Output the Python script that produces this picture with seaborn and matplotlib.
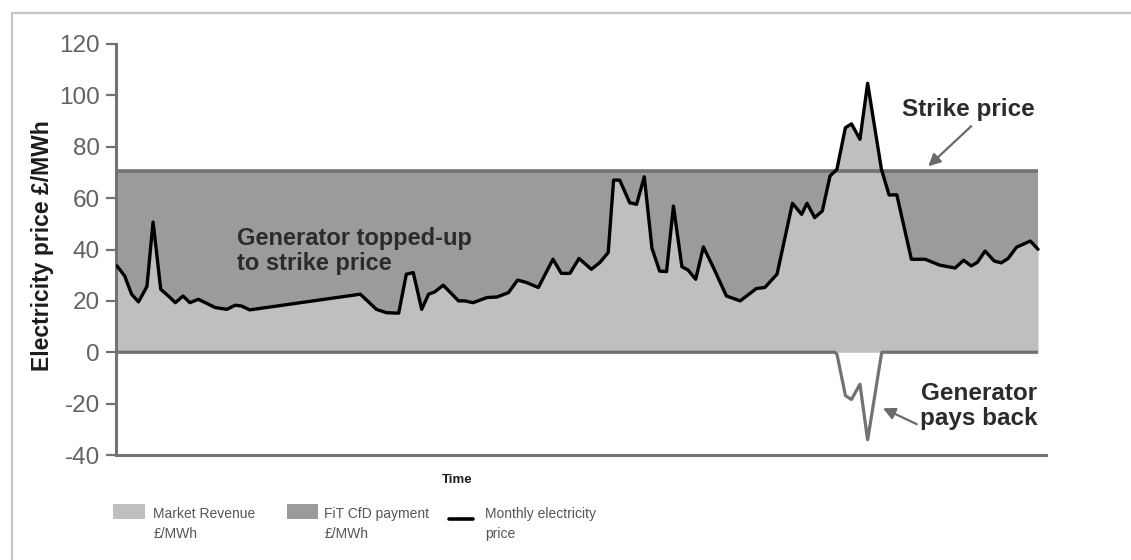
import numpy as np
import pandas as pd
import matplotlib
matplotlib.use("Agg")
import matplotlib.pyplot as plt
from matplotlib import font_manager
from matplotlib.patches import Patch, Rectangle
from matplotlib.lines import Line2D
from matplotlib.legend_handler import HandlerBase
import seaborn as sns

# Monthly wholesale electricity price (£/MWh) against time in months
months = [0.0, 1.0, 1.9, 2.8, 3.9, 4.7, 5.7, 6.7, 7.6, 8.6, 9.5, 10.6, 11.5, 12.8,
          14.3, 15.4, 16.2, 17.3, 31.7, 33.8, 35.1, 36.7, 37.7, 38.6, 39.7, 40.6,
          41.4, 42.5, 44.5, 45.3, 46.4, 48.2, 49.5, 51.0, 52.2, 53.4, 54.9, 56.8,
          57.9, 59.0, 60.2, 61.8, 62.9, 64.0, 64.7, 65.5, 66.8, 67.7, 68.7, 69.7,
          70.7, 71.6, 72.5, 73.6, 74.4, 75.4, 76.4, 77.7, 79.4, 81.2, 83.3, 84.4,
          86.0, 88.0, 89.2, 89.9, 90.9, 91.9, 92.9, 93.8, 94.9, 95.7, 96.8, 97.8,
          99.6, 100.6, 101.6, 103.5, 105.3, 107.2, 109.2, 110.3, 111.3, 112.1,
          113.1, 114.3, 115.2, 116.1, 117.2, 119.0, 120.0]
price = [33.6, 29.7, 22.6, 19.6, 25.6, 50.7, 24.5, 21.9, 19.3, 21.9, 19.3, 20.6,
         19.3, 17.4, 16.7, 18.3, 18.0, 16.5, 22.6, 16.7, 15.4, 15.2, 30.4, 31.0,
         16.7, 22.6, 23.5, 26.1, 20.0, 20.0, 19.3, 21.3, 21.5, 23.2, 28.1, 27.1,
         25.2, 36.2, 30.7, 30.7, 36.5, 32.3, 34.9, 38.8, 67.0, 67.0, 58.2, 57.6,
         68.3, 40.5, 31.6, 31.4, 56.9, 33.3, 32.0, 28.4, 41.0, 33.0, 21.9, 20.0,
         24.8, 25.2, 30.4, 58.0, 53.7, 58.0, 52.4, 55.0, 68.6, 71.2, 87.4, 88.9,
         82.9, 104.7, 71.2, 61.2, 61.3, 36.2, 36.2, 33.9, 32.8, 35.8, 33.6, 35.0,
         39.4, 35.5, 34.8, 36.5, 40.9, 43.3, 40.1]
strike_price = 70.5
y_ticks = [-40, -20, 0, 20, 40, 60, 80, 100, 120]
legend_labels = ["Market Revenue\n£/MWh", "FiT CfD payment\n£/MWh",
                 "Monthly electricity\nprice"]

LIGHT = "#bfbfbf"
DARK = "#9b9b9b"
RULE = "#727272"
TEXT = "#2b2b2b"

sns.set_style("white")
installed = {f.name for f in font_manager.fontManager.ttflist}
main_font = "Liberation Sans" if "Liberation Sans" in installed else "DejaVu Sans"
plt.rcParams["font.family"] = [main_font, "DejaVu Sans"]
plt.rcParams["axes.unicode_minus"] = False

W, H = 1131, 560
fig = plt.figure(figsize=(W / 100, H / 100), dpi=100)
ax = fig.add_axes([116 / W, 1 - 455 / H, 930 / W, 411 / H])

df = pd.DataFrame({"month": months, "price": price})
m = np.asarray(months)
p = np.asarray(price)

# market revenue (0 -> price) and CfD top-up (price -> strike)
ax.fill_between(m, 0, p, color=LIGHT, lw=0, zorder=1)
ax.fill_between(m, p, strike_price, where=p < strike_price, interpolate=True,
                color=DARK, lw=0, zorder=1)

# strike price rule
ax.hlines(strike_price, m[0], m[-1], color=RULE, lw=2.6, zorder=2)

# zero line that dips by the amount the price exceeds the strike (pay back)
fine = np.linspace(m[0], m[-1], 3000)
payback = np.minimum(0, strike_price - np.interp(fine, m, p))
ax.plot(fine, payback, color=RULE, lw=2.3, solid_joinstyle="round",
        solid_capstyle="butt", zorder=2)

sns.lineplot(data=df, x="month", y="price", color="black", lw=2.4, ax=ax,
             zorder=3)

ax.set_xlim(-0.13, 121.04)
ax.set_ylim(-40, 120)
ax.set_yticks(y_ticks)
ax.set_xticks([])
ax.tick_params(axis="y", length=7.5, width=1.6, color=RULE, labelsize=17.5,
               labelcolor="#626262", pad=4, left=True)
for side in ("top", "right"):
    ax.spines[side].set_visible(False)
for side in ("left", "bottom"):
    ax.spines[side].set_color(RULE)
    ax.spines[side].set_linewidth(2.2)

ax.set_ylabel("Electricity price £/MWh", fontsize=16.5, fontweight="bold",
              color="#1c1c1c")
ax.yaxis.set_label_coords(-0.067, 0.51)
ax.set_xlabel("Time", fontsize=9.5, fontweight="bold", color="#1c1c1c")
ax.xaxis.set_label_coords(0.367, -0.047)

# annotations
ax.text(15.6, 39.4, "Generator topped-up\nto strike price", ha="left",
        va="center", fontsize=17, fontweight="bold", color=TEXT,
        linespacing=1.15)
ax.text(110.9, 94.6, "Strike price", ha="center", va="center", fontsize=17.5,
        fontweight="bold", color=TEXT)
ax.annotate("", xy=(105.7, 72.4), xytext=(111.3, 88.0),
            arrowprops=dict(arrowstyle="-|>", color="#6a6a6a", lw=1.6,
                            mutation_scale=18, shrinkA=0, shrinkB=0))
ax.text(119.9, -20.8, "Generator\npays back", ha="right", va="center",
        fontsize=17.5, fontweight="bold", color=TEXT, linespacing=1.1)
ax.annotate("", xy=(99.8, -21.8), xytext=(104.2, -28.0),
            arrowprops=dict(arrowstyle="-|>", color="#6a6a6a", lw=1.6,
                            mutation_scale=18, shrinkA=0, shrinkB=0))


class RaisedHandle(HandlerBase):
    """Legend key lifted towards the first line of a two-line label."""

    def __init__(self, lift, **kw):
        super().__init__(**kw)
        self.lift = lift

    def create_artists(self, legend, orig_handle, xdescent, ydescent, width,
                       height, fontsize, trans):
        if isinstance(orig_handle, Patch):
            art = Rectangle((-xdescent, -ydescent + self.lift), width, height,
                            facecolor=orig_handle.get_facecolor(),
                            edgecolor="none", transform=trans)
        else:
            yc = -ydescent + self.lift + height / 2
            art = Line2D([-xdescent, -xdescent + width], [yc, yc],
                         color=orig_handle.get_color(),
                         lw=orig_handle.get_linewidth(), transform=trans)
        return [art]


# legend entries, each placed on its own
leg_size = 10
handles = [Patch(facecolor=LIGHT, edgecolor="none"),
           Patch(facecolor=DARK, edgecolor="none"),
           Line2D([], [], color="black", lw=2.6)]
xs = [113, 287, 449]
hlen = [2.3, 2.25, 1.75]
hpad = [0.6, 0.45, 0.85]
lifts = [9.5, 9.5, 4.5]
for h, lab, x0, hl, hp, lf in zip(handles, legend_labels, xs, hlen, hpad, lifts):
    lg = fig.legend(handles=[h], labels=[lab], loc="center left",
                    bbox_to_anchor=(x0 / W, 1 - 524 / H), frameon=False,
                    borderpad=0, borderaxespad=0, handlelength=hl,
                    handleheight=1.3, handletextpad=hp,
                    handler_map={type(h): RaisedHandle(lf)},
                    prop={"size": leg_size})
    for t in lg.get_texts():
        t.set_color("#555555")
        t.set_linespacing(1.55)

# outer frame
fig.add_artist(Line2D([12 / W, 1], [1 - 13 / H, 1 - 13 / H], color="#c4c4c4",
                      lw=1.6, transform=fig.transFigure))
fig.add_artist(Line2D([12 / W, 12 / W], [0, 1 - 13 / H], color="#c4c4c4",
                      lw=1.6, transform=fig.transFigure))

fig.savefig("out.png", dpi=100)
